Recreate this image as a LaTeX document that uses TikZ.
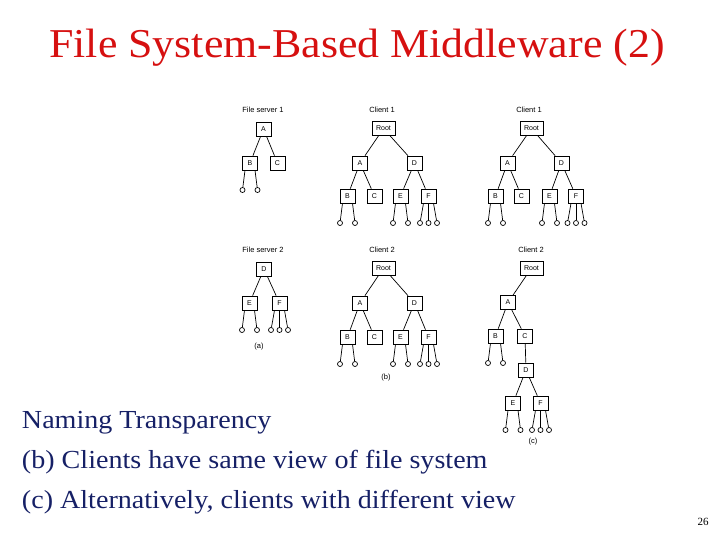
\documentclass[tikz,border=0pt]{standalone}
\usepackage{fontspec}
\setmainfont{Liberation Serif}
\newfontfamily\figfont{Liberation Sans}
\usetikzlibrary{calc}
\definecolor{titlered}{RGB}{214,16,16}
\definecolor{textblue}{RGB}{22,32,102}
\tikzset{
  dir/.style={draw,minimum width=15pt,minimum height=14pt,inner sep=0pt,font=\figfont\fontsize{7}{8}\selectfont},
  rootdir/.style={dir,minimum width=23pt},
  leaf/.style={circle,draw,minimum size=5pt,inner sep=0pt},
  caption/.style={font=\figfont\fontsize{7.5}{8}\selectfont},
  bodyline/.style={anchor=base west,text=textblue,xscale=1.08,font=\fontsize{26}{30}\selectfont}
}
\begin{document}
\begin{tikzpicture}[x=1pt,y=-1pt,line width=0.7pt]
    \useasboundingbox (0,0) rectangle (720,540);
    \node[anchor=base,text=titlered,xscale=1.07,font=\fontsize{41}{45}\selectfont] (title) at (357,58) {File System-Based Middleware (2)};

    % (a) file servers
    \node[caption] (s1) at (263,110) {File server 1};
    \node[dir] (s1A) at (263.5,129) {A};
    \node[dir] (s1B) at (250,163) {B};
    \node[dir] (s1C) at (277.5,163) {C};
    \draw (s1A) -- (s1B);
    \draw (s1A) -- (s1C);

    \node[caption] (s2) at (263,250) {File server 2};
    \node[dir] (s2D) at (264,269) {D};
    \node[dir] (s2E) at (249.5,303) {E};
    \node[dir] (s2F) at (279.5,303) {F};
    \draw (s2D) -- (s2E);
    \draw (s2D) -- (s2F);
    \node[caption] (capa) at (259,347) {(a)};

    % (b) same view
    \node[caption] (b1) at (382,110) {Client 1};
    \node[rootdir] (b1r) at (383.5,128.5) {Root};
    \node[dir] (b1A) at (360,163) {A};
    \node[dir] (b1D) at (414.5,163) {D};
    \node[dir] (b1B) at (347.5,196) {B};
    \node[dir] (b1C) at (374.5,196) {C};
    \node[dir] (b1E) at (400.5,196) {E};
    \node[dir] (b1F) at (428.5,196) {F};
    \draw (b1r) -- (b1A);
    \draw (b1r) -- (b1D);
    \draw (b1A) -- (b1B);
    \draw (b1A) -- (b1C);
    \draw (b1D) -- (b1E);
    \draw (b1D) -- (b1F);

    \node[caption] (b2) at (382,250) {Client 2};
    \node[rootdir] (b2r) at (383.5,268) {Root};
    \node[dir] (b2A) at (360,303) {A};
    \node[dir] (b2D) at (414.5,303) {D};
    \node[dir] (b2B) at (347.5,337) {B};
    \node[dir] (b2C) at (374.5,337) {C};
    \node[dir] (b2E) at (400.5,337) {E};
    \node[dir] (b2F) at (428.5,337) {F};
    \draw (b2r) -- (b2A);
    \draw (b2r) -- (b2D);
    \draw (b2A) -- (b2B);
    \draw (b2A) -- (b2C);
    \draw (b2D) -- (b2E);
    \draw (b2D) -- (b2F);
    \node[caption] (capb) at (386,378) {(b)};

    % (c) different view
    \node[caption] (c1) at (529,110) {Client 1};
    \node[rootdir] (c1r) at (531.5,128.5) {Root};
    \node[dir] (c1A) at (507.5,163) {A};
    \node[dir] (c1D) at (561.5,163) {D};
    \node[dir] (c1B) at (495.5,196) {B};
    \node[dir] (c1C) at (521.5,196) {C};
    \node[dir] (c1E) at (549.5,196) {E};
    \node[dir] (c1F) at (576,196) {F};
    \draw (c1r) -- (c1A);
    \draw (c1r) -- (c1D);
    \draw (c1A) -- (c1B);
    \draw (c1A) -- (c1C);
    \draw (c1D) -- (c1E);
    \draw (c1D) -- (c1F);

    \node[caption] (c2) at (531,250) {Client 2};
    \node[rootdir] (c2r) at (531.5,268) {Root};
    \node[dir] (c2A) at (508,302.5) {A};
    \node[dir] (c2B) at (495.5,336) {B};
    \node[dir] (c2C) at (525,336) {C};
    \node[dir] (c2D) at (526,370) {D};
    \node[dir] (c2E) at (513,403) {E};
    \node[dir] (c2F) at (540.5,403) {F};
    \draw (c2r) -- (c2A);
    \draw (c2A) -- (c2B);
    \draw (c2A) -- (c2C);
    \draw (c2C) -- (c2D);
    \draw (c2D) -- (c2E);
    \draw (c2D) -- (c2F);
    \node[caption] (capc) at (533,442) {(c)};

    % files
    \foreach \b in {s1B,s2E,b1B,b1E,b2B,b2E,c1B,c1E,c2B,c2E} {
        \node[leaf] (\b-1) at ($(\b)+(-7.5,27)$) {};
        \node[leaf] (\b-2) at ($(\b)+(7.5,27)$) {};
        \draw ([xshift=-5pt]\b.south) -- (\b-1);
        \draw ([xshift=5pt]\b.south) -- (\b-2);
    }
    \foreach \b in {s2F,b1F,b2F,c1F,c2F} {
        \foreach \i/\d/\s in {1/-8.5/-5,2/0/0,3/8.5/5} {
            \node[leaf] (\b-\i) at ($(\b)+(\d,27)$) {};
            \draw ([xshift=\s pt]\b.south) -- (\b-\i);
        }
    }

    \node[bodyline] (t1) at (18,428) {Naming Transparency};
    \node[bodyline] (t2) at (18,468) {(b) Clients have same view of file system};
    \node[bodyline] (t3) at (18,508) {(c) Alternatively, clients with different view};
    \node[anchor=base,font=\fontsize{11}{12}\selectfont] (page) at (703,525) {26};
\end{tikzpicture}
\end{document}
